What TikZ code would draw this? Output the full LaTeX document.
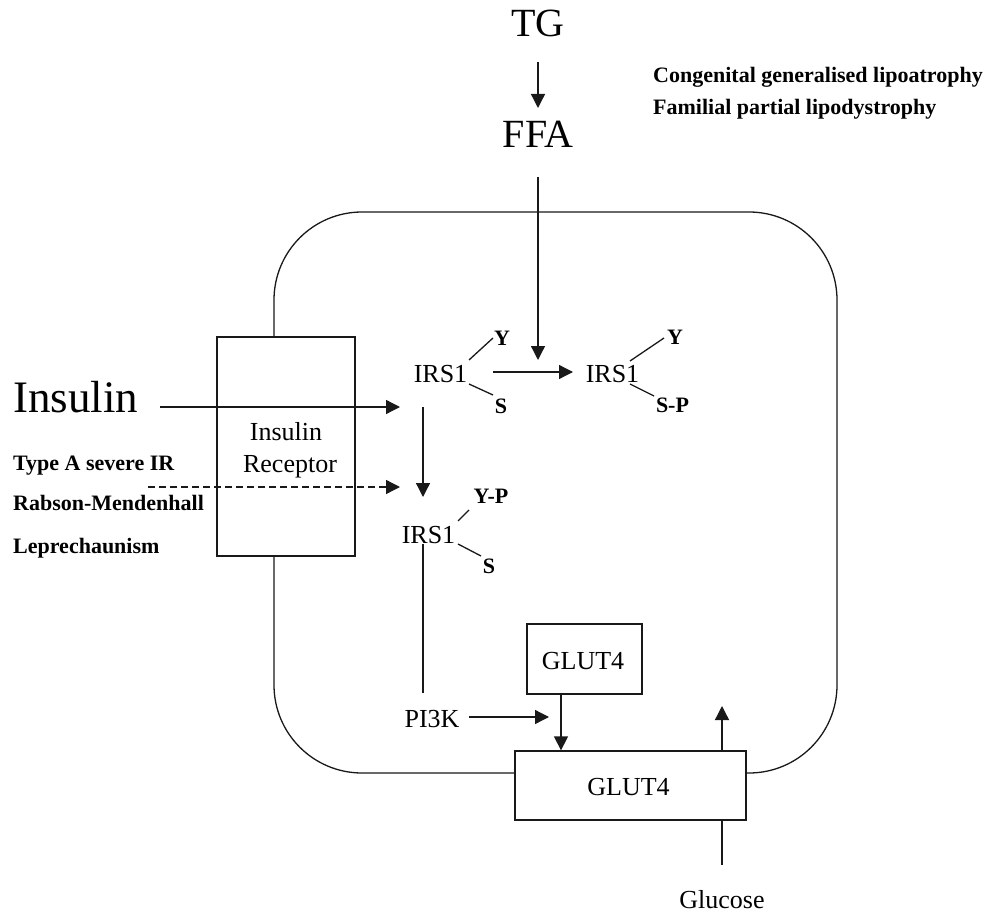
\documentclass[tikz,border=0pt]{standalone}
\usepackage{fontspec}
\setmainfont{Liberation Serif}
\usetikzlibrary{arrows.meta}
\begin{document}
\begin{tikzpicture}[x=1pt,y=-1pt,
  ln/.style={line width=1.3pt, draw=black!90},
  arr/.style={ln, -{Triangle[length=14pt,width=14pt]}},
  dsh/.style={arr, dash pattern=on 7pt off 4pt},
  huge/.style={font=\fontsize{45}{50}\selectfont, anchor=base west, inner sep=0pt},
  big/.style={font=\fontsize{40}{44}\selectfont, anchor=base, inner sep=0pt},
  txt/.style={font=\fontsize{26}{30}\selectfont, anchor=base, inner sep=0pt},
  lbl/.style={font=\bfseries\fontsize{22}{26}\selectfont, anchor=base, inner sep=0pt},
  note/.style={font=\bfseries\fontsize{22}{26}\selectfont, anchor=base west, inner sep=0pt},
  box/.style={ln, fill=white, rectangle, inner sep=0pt}]
\useasboundingbox (0,0) rectangle (988,912);

% cell membrane
\draw[ln, rounded corners=88pt] (274,212) rectangle (837,773);

% boxes on the membrane
\node[box, minimum width=138pt, minimum height=219pt] (IR) at (286,446.5) {};
\node[txt] (IRt1) at (286,440) {Insulin};
\node[txt] (IRt2) at (290,472) {Receptor};
\node[box, minimum width=231pt, minimum height=69pt] (G4b) at (630.5,785.5) {};
\node[txt] (G4bt) at (628.5,795) {GLUT4};
\node[box, minimum width=115pt, minimum height=70pt] (G4s) at (584.5,659) {};
\node[txt] (G4st) at (583,669) {GLUT4};

% top
\node[big] (TG) at (538,37) {TG};
\node[big] (FFA) at (538,148) {FFA};
\node[note] (cgl) at (653,83) {Congenital generalised lipoatrophy};
\node[note] (fpl) at (653,115) {Familial partial lipodystrophy};

% left
\node[huge] (ins) at (13,412) {Insulin};
\node[note] (tA) at (13,470) {Type A severe IR};
\node[note] (rm) at (13,510) {Rabson-Mendenhall};
\node[note] (lep) at (13,553) {Leprechaunism};

% IRS1 states
\node[txt] (irs1) at (440.5,382) {IRS1};
\node[lbl] (y1) at (502,345) {Y};
\node[lbl] (s1) at (501,413) {S};
\node[txt] (irs2) at (612.5,382) {IRS1};
\node[lbl] (y2) at (675,344) {Y};
\node[lbl] (s2) at (672.5,412) {S-P};
\node[txt] (irs3) at (428.5,543) {IRS1};
\node[lbl] (y3) at (491,503) {Y-P};
\node[lbl] (s3) at (489,573) {S};
\node[txt] (pi3k) at (432,727) {PI3K};
\node[txt] (glc) at (722,908) {Glucose};

% bonds
\draw[ln] (469,360) -- (493,338);
\draw[ln] (469,384) -- (493,395);
\draw[ln] (630,361) -- (664,338);
\draw[ln] (630,384) -- (654,396);
\draw[ln] (458,521) -- (469,510);
\draw[ln] (458,544) -- (481,556);

% connector end points
\coordinate (tgA) at (538,62);   \coordinate (tgB) at (538,108);
\coordinate (ffA) at (538,177);  \coordinate (ffB) at (538,360);
\coordinate (inA) at (160,407);  \coordinate (inB) at (400,407);
\coordinate (dA) at (148,487);   \coordinate (dB) at (400,487);
\coordinate (vA) at (423,407);   \coordinate (vB) at (423,497);
\coordinate (hA) at (493,372);   \coordinate (hB) at (573,372);
\coordinate (pA) at (423,544);   \coordinate (pB) at (423,693);
\coordinate (kA) at (469,717);   \coordinate (kB) at (549,717);
\coordinate (uA) at (722,706);   \coordinate (gB) at (722,865);

\draw[arr] (tgA) -- (tgB);
\draw[arr] (ffA) -- (ffB);
\draw[arr] (inA) -- (inB);
\draw[dsh] (dA) -- (dB);
\draw[arr] (vA) -- (vB);
\draw[arr] (hA) -- (hB);
\draw[ln] (pA) -- (pB);
\draw[arr] (kA) -- (kB);
\draw[arr] (G4s.south -| 561,0) -- (G4b.north -| 561,0);
\draw[arr] (G4b.north -| uA) -- (uA);
\draw[ln] (G4b.south -| gB) -- (gB);
\end{tikzpicture}
\end{document}
